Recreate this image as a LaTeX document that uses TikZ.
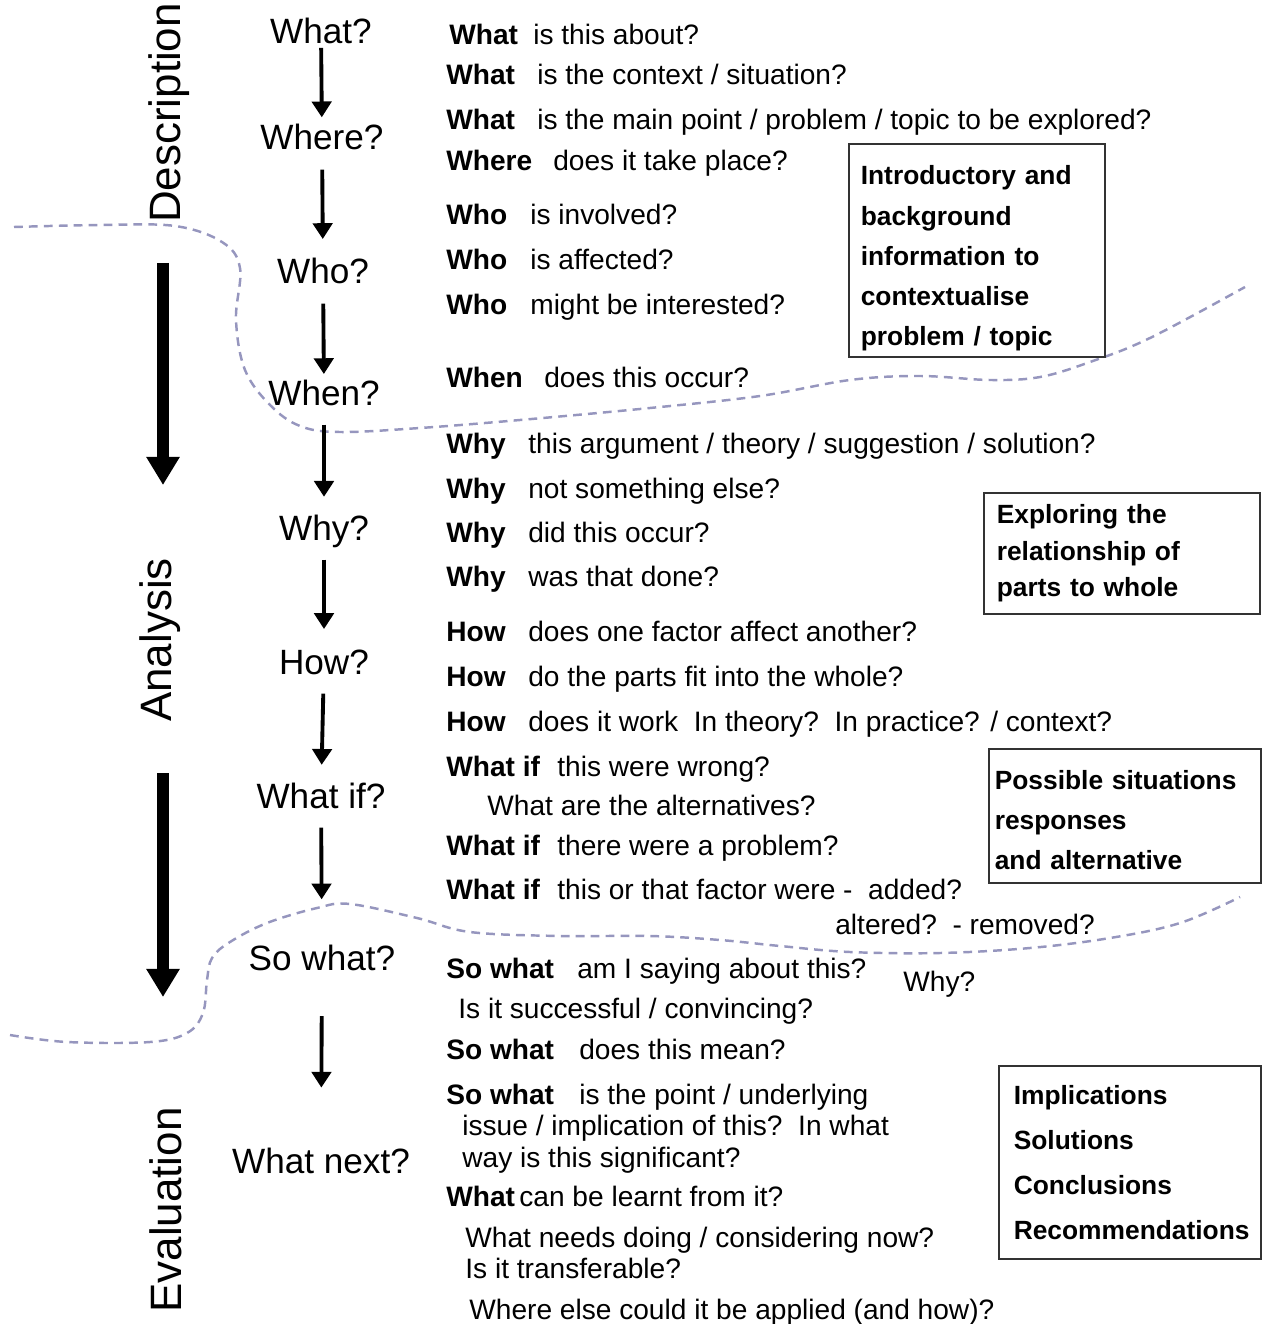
\documentclass[tikz,border=0pt]{standalone}
\usepackage{fontspec}
\setmainfont{Liberation Sans}
\usetikzlibrary{arrows.meta}
\definecolor{dashgrey}{RGB}{150,150,190}

\tikzset{
  stage/.style={anchor=base,inner sep=0pt,text height=14.4pt,text depth=0pt,font=\fontsize{20}{24}\selectfont},
  phase/.style={anchor=base,rotate=90,inner sep=0pt,font=\fontsize{25}{30}\selectfont},
  qline/.style={anchor=base west,inner sep=0pt,font=\fontsize{16}{19}\selectfont},
  note/.style={draw=black!80,line width=0.9pt,anchor=north west,align=left,inner ysep=0pt,font=\fontsize{15}{22.8}\selectfont\bfseries},
  flow/.style={-{Triangle[width=11pt,length=9pt]},line width=2.2pt,shorten <=11pt,shorten >=11pt},
  bigflow/.style={-{Triangle[width=18pt,length=16pt]},line width=6.5pt},
  divide/.style={dashgrey,line width=1.4pt,dash pattern=on 5pt off 3.5pt}
}
\newcommand{\kw}[2]{\makebox[#1][l]{\bfseries #2}}

\begin{document}
\begin{tikzpicture}[x=0.02cm,y=-0.02cm]
  \useasboundingbox (0,0) rectangle (1262,1324);

  % dashed dividers between the phases
  \draw[divide] plot[smooth,tension=0.6] coordinates {(14,227) (100,225) (175,226) (222,242) (240,268) (236,320) (245,370) (270,405) (300,426) (340,432) (420,428) (520,420) (650,408) (760,396) (850,380) (920,376) (990,380) (1040,377) (1090,362) (1150,338) (1245,287)};
  \draw[divide] plot[smooth,tension=0.6] coordinates {(10,1035) (67,1042) (150,1042) (187,1033) (203,1013) (207,980) (212,958) (230,942) (267,923) (317,908) (350,904) (417,918) (470,932) (560,936) (650,936) (720,940) (780,946) (850,952) (940,953) (1030,948) (1110,938) (1180,923) (1240,897)};

  % phases
  \node[phase] (desc) at (180,113) {Description};
  \node[phase] (anal) at (171,640) {Analysis};
  \node[phase] (eval) at (181,1210) {Evaluation};
  \coordinate (big1s) at (163,263);
  \coordinate (big1e) at (163,485);
  \coordinate (big2s) at (163,773);
  \coordinate (big2e) at (163,997);
  \draw[bigflow] (big1s) -- (big1e);
  \draw[bigflow] (big2s) -- (big2e);

  % question chain
  \node[stage] (what) at (321,44) {What?};
  \node[stage] (where) at (322,150) {Where?};
  \node[stage] (who) at (323,284) {Who?};
  \node[stage] (when) at (324,405) {When?};
  \node[stage] (why) at (324,540) {Why?};
  \node[stage] (how) at (324,674) {How?};
  \node[stage] (whatif) at (321,808) {What if?};
  \node[stage] (sowhat) at (322,970) {So what?};
  \node[stage] (next) at (321,1173) {What next?};
  \draw[flow,shorten <=2pt,shorten >=4pt] (what) -- (where);
  \draw[flow] (where) -- (who);
  \draw[flow,shorten >=3pt] (who) -- (when);
  \draw[flow,shorten >=10pt] (when) -- (why);
  \draw[flow] (why) -- (how);
  \draw[flow,shorten >=10pt] (how) -- (whatif);
  \draw[flow,shorten >=25.6pt] (whatif) -- (sowhat);
  \draw[flow,shorten <=26pt,shorten >=34pt] (sowhat) -- (next);

  % questions
  \node[qline] (q1) at (449,45) {\kw{1.68cm}{What}is this about?};
  \node[qline] (q2) at (446,85) {\kw{1.82cm}{What}is the context / situation?};
  \node[qline] (q3) at (446,130) {\kw{1.82cm}{What}is the main point / problem / topic to be explored?};
  \node[qline] (q4) at (446,171) {\kw{2.14cm}{Where}does it take place?};
  \node[qline] (q5) at (446,225) {\kw{1.68cm}{Who}is involved?};
  \node[qline] (q6) at (446,270) {\kw{1.68cm}{Who}is affected?};
  \node[qline] (q7) at (446,315) {\kw{1.68cm}{Who}might be interested?};
  \node[qline] (q8) at (446,387) {\kw{1.96cm}{When}does this occur?};
  \node[qline] (q9) at (446,453) {\kw{1.64cm}{Why}this argument / theory / suggestion / solution?};
  \node[qline] (q10) at (446,498) {\kw{1.64cm}{Why}not something else?};
  \node[qline] (q11) at (446,542) {\kw{1.64cm}{Why}did this occur?};
  \node[qline] (q12) at (446,586) {\kw{1.64cm}{Why}was that done?};
  \node[qline] (q13) at (446,641) {\kw{1.64cm}{How}does one factor affect another?};
  \node[qline] (q14) at (446,686) {\kw{1.64cm}{How}do the parts fit into the whole?};
  \node[qline] (q15) at (446,731) {\kw{1.64cm}{How}does it work\ \ In theory?\ \ In practice? / context?};
  \node[qline] (q16) at (446,776) {\kw{2.22cm}{What if}this were wrong?};
  \node[qline] (q17) at (487,815) {What are the alternatives?};
  \node[qline] (q18) at (446,855) {\kw{2.22cm}{What if}there were a problem?};
  \node[qline] (q19) at (446,899) {\kw{2.22cm}{What if}this or that factor were -\ \ added?};
  \node[qline] (q20) at (835,934) {altered?\ \ - removed?};
  \node[qline] (q21) at (446,978) {\kw{2.62cm}{So what}am I saying about this?};
  \node[qline] (q22) at (903,991) {Why?};
  \node[qline] (q23) at (458,1018) {Is it successful / convincing?};
  \node[qline] (q24) at (446,1059) {\kw{2.66cm}{So what}does this mean?};
  \node[qline] (q25) at (446,1104) {\kw{2.66cm}{So what}is the point / underlying};
  \node[qline] (q26) at (462,1135) {issue / implication of this?\ \ In what};
  \node[qline] (q27) at (462,1167) {way is this significant?};
  \node[qline] (q28) at (446,1206) {\kw{1.46cm}{What}can be learnt from it?};
  \node[qline] (q29) at (465,1247) {What needs doing / considering now?};
  \node[qline] (q30) at (465,1278) {Is it transferable?};
  \node[qline] (q31) at (469,1319) {Where else could it be applied (and how)?};

  % summary boxes
  \node[note,inner xsep=0.24cm,text width=4.64cm,minimum height=4.26cm] (intro) at (848,143)
    {\rule{0pt}{20pt}Introductory and\\background\\information to\\contextualise\\problem / topic};
  \node[note,inner xsep=0.26cm,text width=5.0cm,minimum height=2.42cm,font=\fontsize{15}{21}\selectfont\bfseries] (parts) at (983,492)
    {Exploring the\\relationship of\\parts to whole};
  \node[note,inner xsep=0.12cm,text width=5.2cm,minimum height=2.68cm] (alts) at (988,748)
    {\rule{0pt}{15.5pt}Possible situations\\responses\\and alternative};
  \node[note,inner xsep=0.3cm,text width=4.64cm,minimum height=3.86cm,font=\fontsize{15}{25.6}\selectfont\bfseries] (impl) at (998,1065)
    {Implications\\Solutions\\Conclusions\\Recommendations};
\end{tikzpicture}
\end{document}
